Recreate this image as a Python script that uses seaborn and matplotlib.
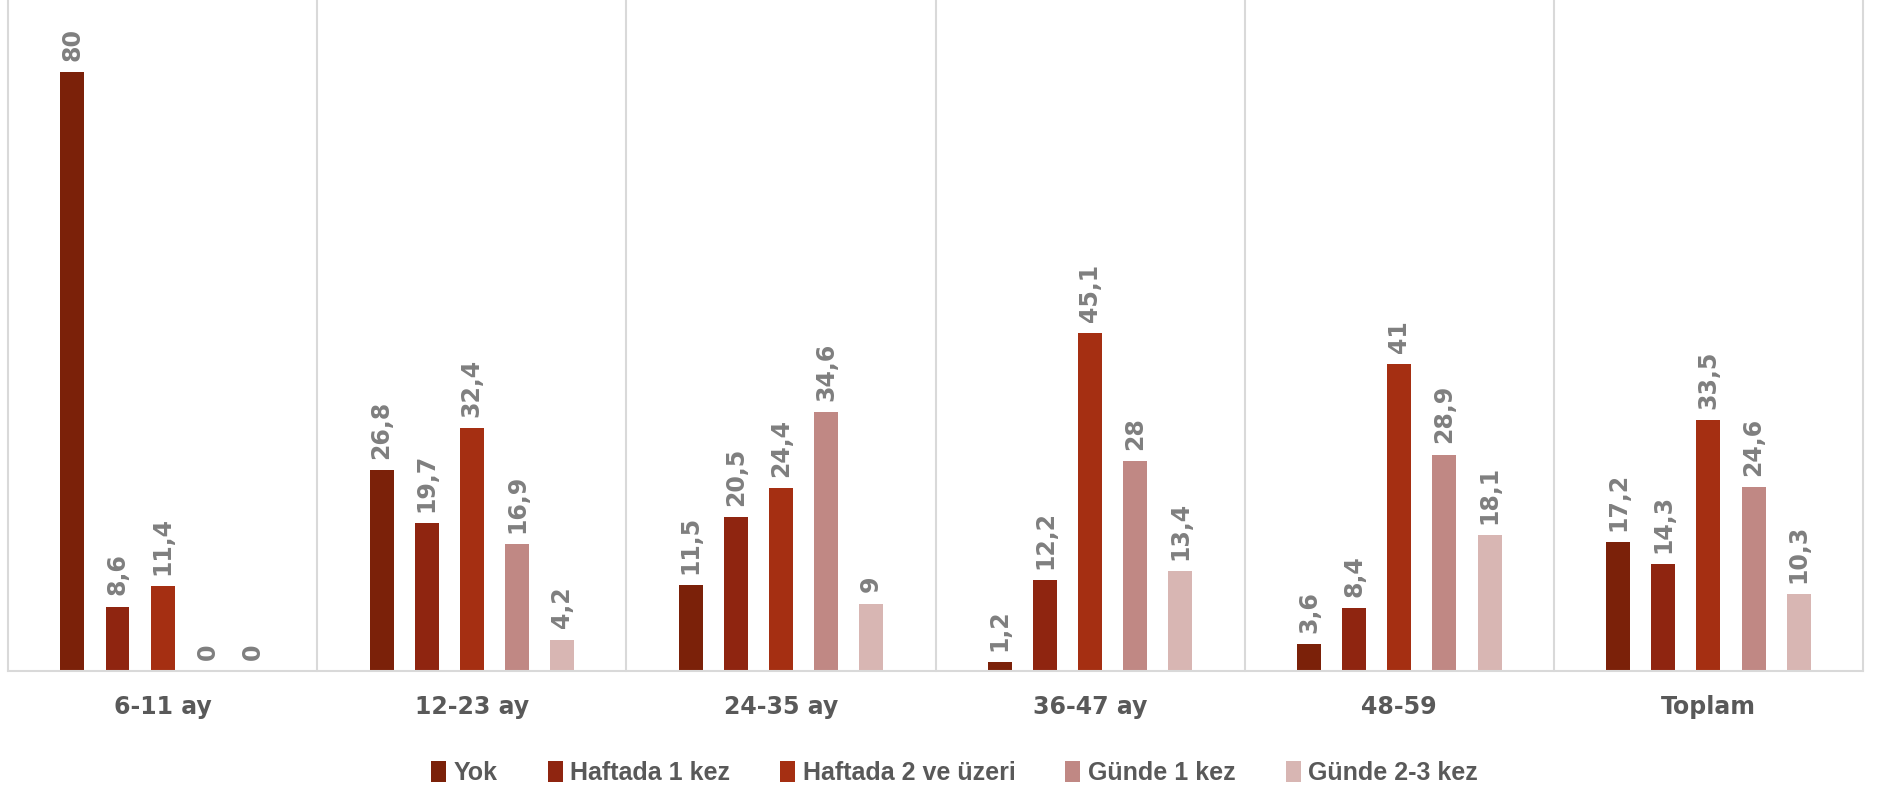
import matplotlib
matplotlib.use("Agg")
import matplotlib.pyplot as plt
import seaborn as sns
import pandas as pd
from matplotlib.patches import Patch

groups = ["6-11 ay", "12-23 ay", "24-35 ay", "36-47 ay", "48-59", "Toplam"]
series = ["Yok", "Haftada 1 kez", "Haftada 2 ve üzeri", "Günde 1 kez", "Günde 2-3 kez"]
yok = [80, 26.8, 11.5, 1.2, 3.6, 17.2]
haftada_1 = [8.6, 19.7, 20.5, 12.2, 8.4, 14.3]
haftada_2 = [11.4, 32.4, 24.4, 45.1, 41, 33.5]
gunde_1 = [0, 16.9, 34.6, 28, 28.9, 24.6]
gunde_23 = [0, 4.2, 9, 13.4, 18.1, 10.3]
colors = ["#7B2109", "#8F2510", "#A52F12", "#C08884", "#D8B6B3"]

values = [yok, haftada_1, haftada_2, gunde_1, gunde_23]
rows = []
for name, vals in zip(series, values):
    for g, v in zip(groups, vals):
        rows.append({"Grup": g, "Sıklık": name, "Değer": v})
df = pd.DataFrame(rows)

sns.set_theme(style="white")
plt.rcParams["font.family"] = ["DejaVu Sans"]

fig = plt.figure(figsize=(18.79, 7.92), dpi=100)
ax = fig.add_axes([0.0043, 0.1528, 0.9872, 0.8472])

sns.barplot(data=df, x="Grup", y="Değer", hue="Sıklık", order=groups,
            hue_order=series, palette=colors, width=0.73, gap=0.47,
            linewidth=0, saturation=1, legend=False, ax=ax)

ax.set_ylim(0, 89.6)
ax.set_xlim(-0.5, len(groups) - 0.5)
ax.set_yticks([])
ax.set_xlabel("")
ax.set_ylabel("")

def fmt(v):
    return str(int(v)) if float(v).is_integer() else str(v).replace(".", ",")

for cont, vals in zip(ax.containers, values):
    ax.bar_label(cont, labels=[fmt(v) for v in vals], rotation=90, padding=8,
                 color="#7F7F7F", fontsize=17, fontweight="bold")

# category separators
for b in range(len(groups) + 1):
    ax.axvline(b - 0.5, color="#D9D9D9", lw=1.5, clip_on=False, zorder=0)

for side in ["left", "right", "top"]:
    ax.spines[side].set_visible(False)
ax.spines["bottom"].set_color("#D9D9D9")
ax.spines["bottom"].set_linewidth(1.5)

ax.tick_params(axis="x", length=0, pad=17, labelsize=17, labelcolor="#595959")
for lbl in ax.get_xticklabels():
    lbl.set_fontweight("bold")

handles = [Patch(facecolor=c, edgecolor="none") for c in colors]
fig.legend(handles, series, loc="center", bbox_to_anchor=(0.508, 0.024),
           ncol=5, frameon=False, handlelength=0.6, handleheight=0.9,
           handletextpad=0.3, columnspacing=2.0,
           prop={"family": ["Liberation Sans", "DejaVu Sans"],
                 "weight": "bold", "size": 18},
           labelcolor="#595959")

fig.savefig("out.png", dpi=100)
